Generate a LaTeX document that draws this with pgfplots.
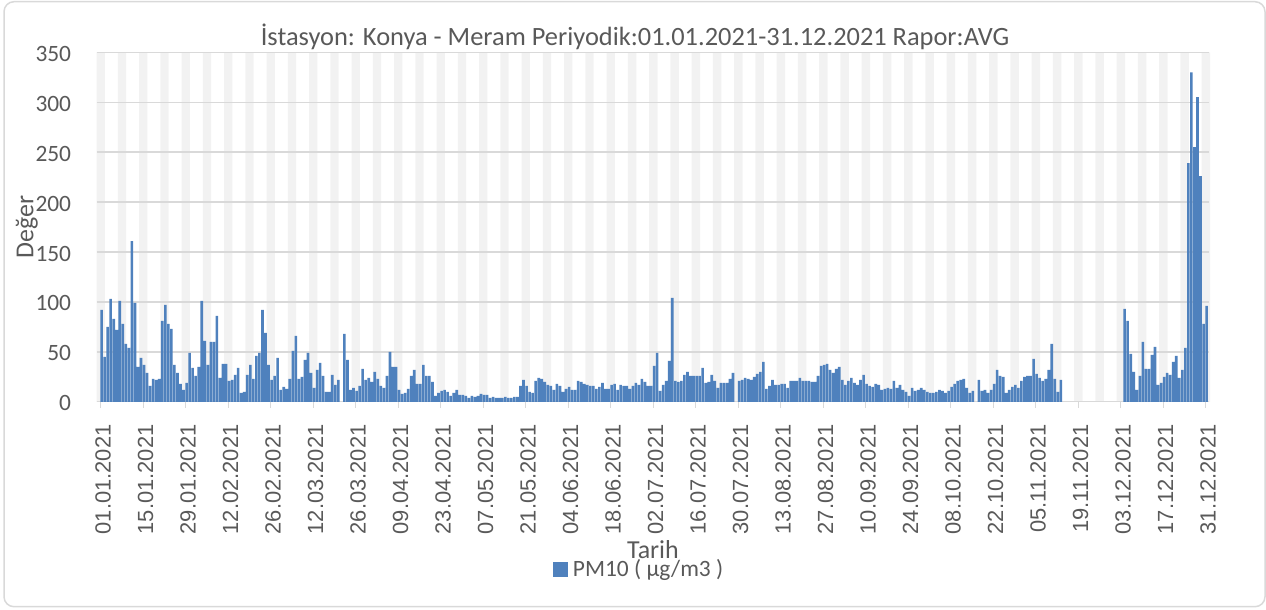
\documentclass[border=0pt]{standalone}
\usepackage{fontspec}
\setmainfont{Carlito}
\newfontfamily\xfont{Liberation Sans}
\usepackage{pgfplots}
\usepackage{pgfplotstable}
\pgfplotsset{compat=1.18}
\definecolor{barblue}{HTML}{4F81BD}
\definecolor{txt}{HTML}{595959}
\definecolor{gridc}{HTML}{D9D9D9}
\definecolor{stripe}{HTML}{F2F2F2}

\pgfplotstableread{
x y
0 92
1 45
2 75
3 103
4 83
5 72
6 101
7 78
8 58
9 54
10 161
11 99
12 35
13 44
14 37
15 29
16 16
17 23
18 22
19 23
20 81
21 97
22 78
23 73
24 37
25 29
26 18
27 12
28 19
29 49
30 34
31 26
32 35
33 101
34 61
35 37
36 60
37 60
38 86
39 24
40 38
41 38
42 21
43 22
44 27
45 34
46 9
47 10
48 27
49 37
50 23
51 46
52 49
53 92
54 69
55 37
56 22
57 26
58 44
59 12
60 15
61 13
62 23
63 51
64 66
65 23
66 25
67 42
68 49
69 29
70 14
71 32
72 39
73 26
74 10
75 10
76 27
77 17
78 22
80 68
81 42
82 12
83 14
84 11
85 16
86 33
87 22
88 24
89 20
90 30
91 23
92 16
93 14
94 26
95 50
96 35
97 35
98 12
99 8
100 9
101 13
102 26
103 32
104 18
105 18
106 37
107 26
108 26
109 20
110 6
111 9
112 11
113 12
114 10
115 6
116 9
117 12
118 7
119 7
120 6
121 4
122 6
123 5
124 6
125 8
126 7
127 7
128 4
129 5
130 4
131 4
132 4
133 5
134 4
135 4
136 5
137 5
138 16
139 22
140 16
141 10
142 9
143 21
144 24
145 23
146 20
147 17
148 16
149 12
150 18
151 16
152 10
153 13
154 15
155 12
156 12
157 21
158 20
159 18
160 17
161 16
162 16
163 13
164 15
165 19
166 13
167 13
168 17
169 18
170 12
171 17
172 16
173 16
174 13
175 16
176 19
177 17
178 23
179 20
180 16
181 16
182 36
183 49
184 11
185 17
186 21
187 41
188 104
189 21
190 20
191 21
192 27
193 30
194 26
195 26
196 26
197 26
198 34
199 19
200 20
201 27
202 21
203 14
204 19
205 19
206 19
207 23
208 29
210 21
211 22
212 24
213 23
214 22
215 25
216 28
217 30
218 40
219 13
220 16
221 22
222 17
223 17
224 18
225 18
226 14
227 21
228 21
229 21
230 24
231 21
232 21
233 21
234 20
235 20
236 26
237 36
238 37
239 38
240 32
241 29
242 33
243 35
244 22
245 17
246 21
247 24
248 19
249 17
250 22
251 27
252 18
253 16
254 15
255 18
256 17
257 12
258 13
259 14
260 13
261 21
262 14
263 17
264 12
265 10
266 6
267 14
268 11
269 12
270 14
271 12
272 10
273 9
274 9
275 10
276 12
277 11
278 9
279 11
280 15
281 18
282 21
283 22
284 23
285 14
286 9
287 11
289 22
290 11
291 12
292 9
293 12
294 18
295 32
296 26
297 25
298 9
299 12
300 15
301 17
302 14
303 21
304 25
305 26
306 26
307 43
308 28
309 24
310 21
311 23
312 32
313 58
314 23
315 10
316 22
337 93
338 81
339 48
340 30
341 12
342 26
343 60
344 33
345 33
346 47
347 55
348 17
349 19
350 25
351 29
352 27
353 40
354 46
355 24
356 32
357 54
358 239
359 330
360 255
361 305
362 226
363 78
364 96
}\pmdata

\begin{document}
\begin{tikzpicture}[x=1bp,y=1bp]
\draw[gridc, line width=1.5bp, rounded corners=10bp] (4,3.3) rectangle (1265,608.3);
\node[anchor=base, font=\fontsize{26.5}{30}\selectfont, text=txt, inner sep=0pt] at (635,564) {İstasyon: Konya - Meram Periyodik:01.01.2021-31.12.2021 Rapor:AVG};
\begin{axis}[
  at={(96.7bp,208.2bp)}, anchor=south west,
  scale only axis, width=1112.3bp, height=349.5bp,
  set layers=standard,
  xmin=-1.6, xmax=364.8, ymin=0, ymax=350,
  axis x line*=bottom, axis y line*=left,
  x axis line style={draw=gridc, line width=1.3bp, -},
  y axis line style={draw=none},
  tick align=outside,
  major tick length=6bp,
  xtick style={draw=gridc, line width=1.3bp},
  ytick style={draw=none},
  ymajorgrids,
  major grid style={draw=gridc, line width=1.3bp},
  ytick={0,50,...,350},
  xtick={-0.3,13.7,...,363.7},
  xticklabels={01.01.2021,15.01.2021,29.01.2021,12.02.2021,26.02.2021,12.03.2021,26.03.2021,09.04.2021,23.04.2021,07.05.2021,21.05.2021,04.06.2021,18.06.2021,02.07.2021,16.07.2021,30.07.2021,13.08.2021,27.08.2021,10.09.2021,24.09.2021,08.10.2021,22.10.2021,05.11.2021,19.11.2021,03.12.2021,17.12.2021,31.12.2021},
  xticklabel style={font=\xfont\fontsize{22}{24}\selectfont, text=txt, inner sep=0pt, xshift=2.5bp, yshift=-16.5bp, rotate=90, anchor=east},
  yticklabel style={font=\fontsize{23.5}{26}\selectfont, text=txt, inner sep=0pt, anchor=east, xshift=-19.4bp, yshift=-1.5bp},
  /pgf/number format/assume math mode=true,
  ylabel={Değer},
  ylabel style={at={(axis description cs:-0.0570,0.5)}, anchor=base, font=\fontsize{26}{30}\selectfont, text=txt, inner sep=0pt},
  xlabel={Tarih},
  xlabel style={at={(axis description cs:0.5001,-0.4478)}, anchor=base, font=\fontsize{26}{30}\selectfont, text=txt, inner sep=0pt},
  legend style={at={(0.4102,-0.477)}, anchor=west, draw=none, fill=none, inner sep=0pt, outer sep=0pt, font=\fontsize{23.5}{26}\selectfont, text=txt, nodes={inner sep=0pt}, cells={anchor=base west}, column sep=5bp},
]
\addplot[ybar, bar width=2.75, bar shift=-0.25, fill=stripe, draw=none, forget plot, on layer=axis background] coordinates {
(0,350) (7,350) (14,350) (21,350) (28,350) (35,350) (42,350) (49,350) (56,350) (63,350)
(70,350) (77,350) (84,350) (91,350) (98,350) (105,350) (112,350) (119,350) (126,350) (133,350)
(140,350) (147,350) (154,350) (161,350) (168,350) (175,350) (182,350) (189,350) (196,350) (203,350)
(210,350) (217,350) (224,350) (231,350) (238,350) (245,350) (252,350) (259,350) (266,350) (273,350)
(280,350) (287,350) (294,350) (301,350) (308,350) (315,350) (322,350) (329,350) (336,350) (343,350)
(350,350) (357,350) (364,350)};
\addplot[ybar, bar width=0.86, bar shift=0, fill=barblue, draw=none,
  legend image code/.code={\fill[barblue] (0bp,-1bp) rectangle (15bp,14bp);}] table[x=x,y=y] {\pmdata};
\addlegendentry{PM10 ( µg/m3 )}
\end{axis}
\pgfresetboundingbox
\path (0,0) rectangle (1266,610);
\end{tikzpicture}
\end{document}
